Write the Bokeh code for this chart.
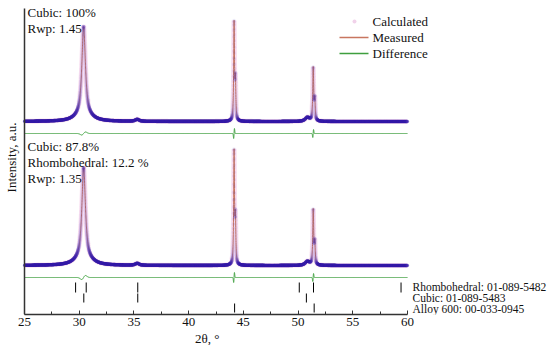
import numpy as np
from bokeh.plotting import figure
from bokeh.models import Range1d, FixedTicker, Label, Title
from bokeh.embed import file_html
from bokeh.resources import INLINE

# ---------------- data ----------------
x_ticks = [25, 30, 35, 40, 45, 50, 55, 60]

# reflections of the refined profiles: position (2theta), FWHM, K-alpha2 share
peak_pos = [30.40, 30.40, 35.30, 44.15, 50.85, 51.38]
peak_fwhm = [0.38, 1.60, 0.40, 0.09, 0.45, 0.10]
peak_ka2 = [0.0, 0.0, 0.0, 0.4, 0.0, 0.4]
top_heights = [88, 7, 2, 97, 4, 52]         # upper pattern (Cubic 100 %)
bottom_heights = [90, 8, 2, 112, 4, 54]     # lower pattern (Cubic 87.8 %)
top_background = 193
bottom_background = 49

# difference curves
top_diff_offset = 181
bottom_diff_offset = 37
diff_pos = [30.40, 44.15, 51.38]
diff_width = [0.25, 0.05, 0.05]
top_diff_amp = [1.5, 5.0, 4.0]
bottom_diff_amp = [2.0, 5.0, 4.0]

# reference patterns (bar markers)
rhombo_ticks = [29.67, 30.64, 35.35, 50.11, 51.41, 59.41]
cubic_ticks = [30.42, 35.35, 50.76]
alloy_ticks = [44.20, 51.47]
phase_labels = ["Rhombohedral: 01-089-5482", "Cubic: 01-089-5483", "Alloy 600: 00-033-0945"]

top_texts = ["Cubic: 100%", "Rwp: 1.45"]
bottom_texts = ["Cubic: 87.8%", "Rhombohedral: 12.2 %", "Rwp: 1.35"]
legend_labels = ["Calculated", "Measured", "Difference"]

# ---------------- profile building ----------------
x = np.arange(25.0, 60.0001, 0.005)


def pv(xx, c, h, w, eta=0.85):
    d = (xx - c) / w
    return h * (eta / (1 + 4 * d * d) + (1 - eta) * np.exp(-4 * np.log(2) * d * d))


def pattern(heights, bg):
    y = np.full_like(x, float(bg))
    for c, h, w, k in zip(peak_pos, heights, peak_fwhm, peak_ka2):
        y += pv(x, c, h, w)
        if k > 0:
            y += pv(x, c + 0.0028 * c, h * k, w)
    return y


def diff(amps, off):
    y = np.full_like(x, float(off))
    for c, a, w in zip(diff_pos, amps, diff_width):
        d = (x - c) / w
        y += a * 2.33 * d * np.exp(-d * d)
    return y


calc_top = pattern(top_heights, top_background)
calc_bot = pattern(bottom_heights, bottom_background)
d_top = diff(top_diff_amp, top_diff_offset)
d_bot = diff(bottom_diff_amp, bottom_diff_offset)
meas_top = calc_top + (d_top - top_diff_offset)
meas_bot = calc_bot + (d_bot - bottom_diff_offset)

# ---------------- figure ----------------
FONT = "Liberation Serif"
PX_PER_DEG = 383 / 35.0
FRAME_LEFT = 20          # px of the frame's left edge
AXIS_X = 22              # px where 2theta = 25 sits
FRAME_W = 528
x_start = 25 - (AXIS_X - FRAME_LEFT) / PX_PER_DEG
x_end = x_start + FRAME_W / PX_PER_DEG


def dx(px):
    """picture pixel (x) -> data x"""
    return 25 + (px - AXIS_X) / PX_PER_DEG


def dy(py):
    """picture pixel (y) -> data y"""
    return 314 - py


p = figure(frame_width=FRAME_W, frame_height=314, output_backend="svg",
           toolbar_location=None, x_range=Range1d(x_start, x_end), y_range=Range1d(0, 314),
           min_border_left=FRAME_LEFT, min_border_right=0, min_border_top=0, min_border_bottom=0)
p.outline_line_color = None
p.xgrid.visible = False
p.ygrid.visible = False

PURPLE = "#4426b8"
BROWN = "#c8765f"
GREEN = "#3f9f3f"
PINK = "#f8dcef"
AXIS = "#333333"

for calc, meas, dd in [(calc_top, meas_top, d_top), (calc_bot, meas_bot, d_bot)]:
    p.line(x, calc, line_color=PINK, line_width=5, line_alpha=0.9)
    p.line(x, meas, line_color=BROWN, line_width=1)
    p.scatter(x, calc, size=3.6, marker="circle", fill_color=PURPLE, fill_alpha=0.08, line_color=None)
    p.line(x, dd, line_color=GREEN, line_width=1)

# left axis line (only up to the top of the original frame)
p.segment(x0=[25], y0=[0], x1=[25], y1=[dy(8)], line_color=AXIS, line_width=1.5)

# reference bars
for ticks, (py0, py1) in [(rhombo_ticks, (282, 292)), (cubic_ticks, (293, 302)), (alloy_ticks, (303, 312))]:
    p.segment(x0=ticks, y0=[dy(py0)] * len(ticks), x1=ticks, y1=[dy(py1)] * len(ticks),
              line_color="black", line_width=1)

for txt, py in zip(phase_labels, [286, 297, 308]):
    p.add_layout(Label(x=dx(410), y=dy(py), text=txt, text_font=FONT, text_font_size="11.5px",
                       text_baseline="middle", text_color="#111111"))

for txt, py in zip(top_texts, [12, 28]):
    p.add_layout(Label(x=dx(25), y=dy(py), text=txt, text_font=FONT, text_font_size="13px",
                       text_baseline="middle", text_color="#111111"))
for txt, py in zip(bottom_texts, [146, 162, 178]):
    p.add_layout(Label(x=dx(25), y=dy(py), text=txt, text_font=FONT, text_font_size="13px",
                       text_baseline="middle", text_color="#111111"))

# legend (drawn by hand)
p.scatter(x=[dx(352)], y=[dy(21)], size=4, marker="circle", fill_color="#e8b4dc",
          fill_alpha=0.6, line_color=None)
p.segment(x0=[dx(337)], y0=[dy(37)], x1=[dx(366)], y1=[dy(37)], line_color=BROWN, line_width=1.3)
p.segment(x0=[dx(337)], y0=[dy(53)], x1=[dx(366)], y1=[dy(53)], line_color=GREEN, line_width=1.3)
for txt, py in zip(legend_labels, [21, 37, 53]):
    p.add_layout(Label(x=dx(370), y=dy(py), text=txt, text_font=FONT, text_font_size="13px",
                       text_baseline="middle", text_color="#111111"))

# axes
p.xaxis.bounds = (25, 60)
p.xaxis.ticker = FixedTicker(ticks=x_ticks, minor_ticks=[t + 2.5 for t in x_ticks[:-1]])
p.xaxis.axis_line_color = AXIS
p.xaxis.axis_line_width = 1.5
p.xaxis.major_tick_in = 4
p.xaxis.major_tick_out = 0
p.xaxis.minor_tick_in = 3
p.xaxis.minor_tick_out = 0
p.xaxis.major_tick_line_color = AXIS
p.xaxis.minor_tick_line_color = AXIS
p.xaxis.major_label_standoff = 3
p.xaxis.major_label_text_font = FONT
p.xaxis.major_label_text_font_size = "13px"
p.xaxis.major_label_text_color = "#111111"

# x-axis title, centred under the drawn part of the axis
p.add_layout(Title(text="2θ, °", align="left", offset=(AXIS_X + 383 / 2) - FRAME_LEFT - 21,
                   text_font=FONT, text_font_size="13px", text_font_style="normal",
                   text_color="#111111", standoff=0), "below")

p.yaxis.ticker = FixedTicker(ticks=[])
p.yaxis.axis_line_color = None
p.yaxis.major_tick_out = 0
p.yaxis.major_tick_in = 0
p.yaxis.major_label_standoff = 0
p.yaxis.axis_label = "Intensity, a.u."
p.yaxis.axis_label_text_font = FONT
p.yaxis.axis_label_text_font_size = "13px"
p.yaxis.axis_label_text_font_style = "normal"
p.yaxis.axis_label_standoff = 4
p.yaxis.axis_label_text_color = "#111111"

open("out.html", "w").write(file_html(p, INLINE))
